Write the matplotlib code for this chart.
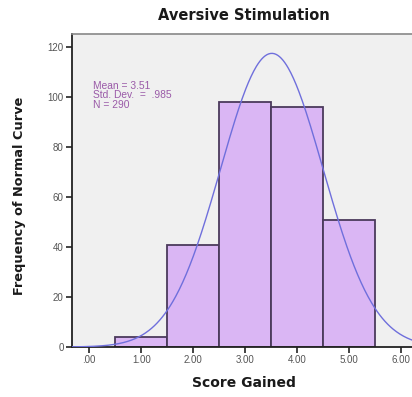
import matplotlib.pyplot as plt
import numpy as np

plt.rcParams['font.family'] = ['Liberation Sans', 'DejaVu Sans']

# histogram of score gained (bin centres and counts)
bin_centres = [1.0, 2.0, 3.0, 4.0, 5.0]
counts = [4, 41, 98, 96, 51]
mean, sd, n = 3.51, 0.985, 290
xtick_vals = [0, 1, 2, 3, 4, 5, 6]
xtick_labels = ['.00', '1.00', '2.00', '3.00', '4.00', '5.00', '6.00']
ytick_vals = [0, 20, 40, 60, 80, 100, 120]

W, H = 412, 397
fig = plt.figure(figsize=(W / 100, H / 100), dpi=100)
fig.patch.set_facecolor('white')
ax = fig.add_axes([72 / W, 50 / H, 345 / W, 313 / H])
ax.set_facecolor('#f0f0f0')

ax.bar(bin_centres, counts, width=1.0, color='#dab6f4', edgecolor='#4b3a5c', linewidth=1.3, zorder=2)

# fitted normal curve scaled to counts (bin width 1)
xs = np.linspace(-0.4, 6.4, 400)
ys = n / (sd * np.sqrt(2 * np.pi)) * np.exp(-0.5 * ((xs - mean) / sd) ** 2)
ax.plot(xs, ys, color='#6f6fdc', linewidth=1.0, zorder=3)

ax.set_xlim(-0.33, 6.3)
ax.set_ylim(0, 125.2)
ax.set_xticks(xtick_vals)
ax.set_xticklabels(xtick_labels)
ax.set_yticks(ytick_vals)
ax.tick_params(axis='both', direction='out', length=4, width=1.2, labelsize=7,
               colors='#222222', labelcolor='#555555', pad=2)

for side in ['left', 'bottom']:
    ax.spines[side].set_color('#222222')
    ax.spines[side].set_linewidth(1.3)
ax.spines['top'].set_color('#888888')
ax.spines['top'].set_linewidth(1.2)
ax.spines['right'].set_visible(False)

ax.text(0.08, 106.5, 'Mean = 3.51\nStd. Dev.  =  .985\nN = 290', fontsize=7.4, color='#9a5aa8',
        va='top', ha='left', linespacing=0.95)

bold = dict(family='DejaVu Sans', fontweight='bold', color='#1a1a1a')
fig.text(244 / W, 1 - 16 / H, 'Aversive Stimulation', fontsize=10.5, ha='center', va='center', **bold)
fig.text(244 / W, 1 - 383 / H, 'Score Gained', fontsize=10, ha='center', va='center', **bold)
fig.text(20 / W, 1 - 196 / H, 'Frequency of Normal Curve', fontsize=9.3, ha='center', va='center',
         rotation=90, **bold)

fig.savefig('out.png', dpi=100)
